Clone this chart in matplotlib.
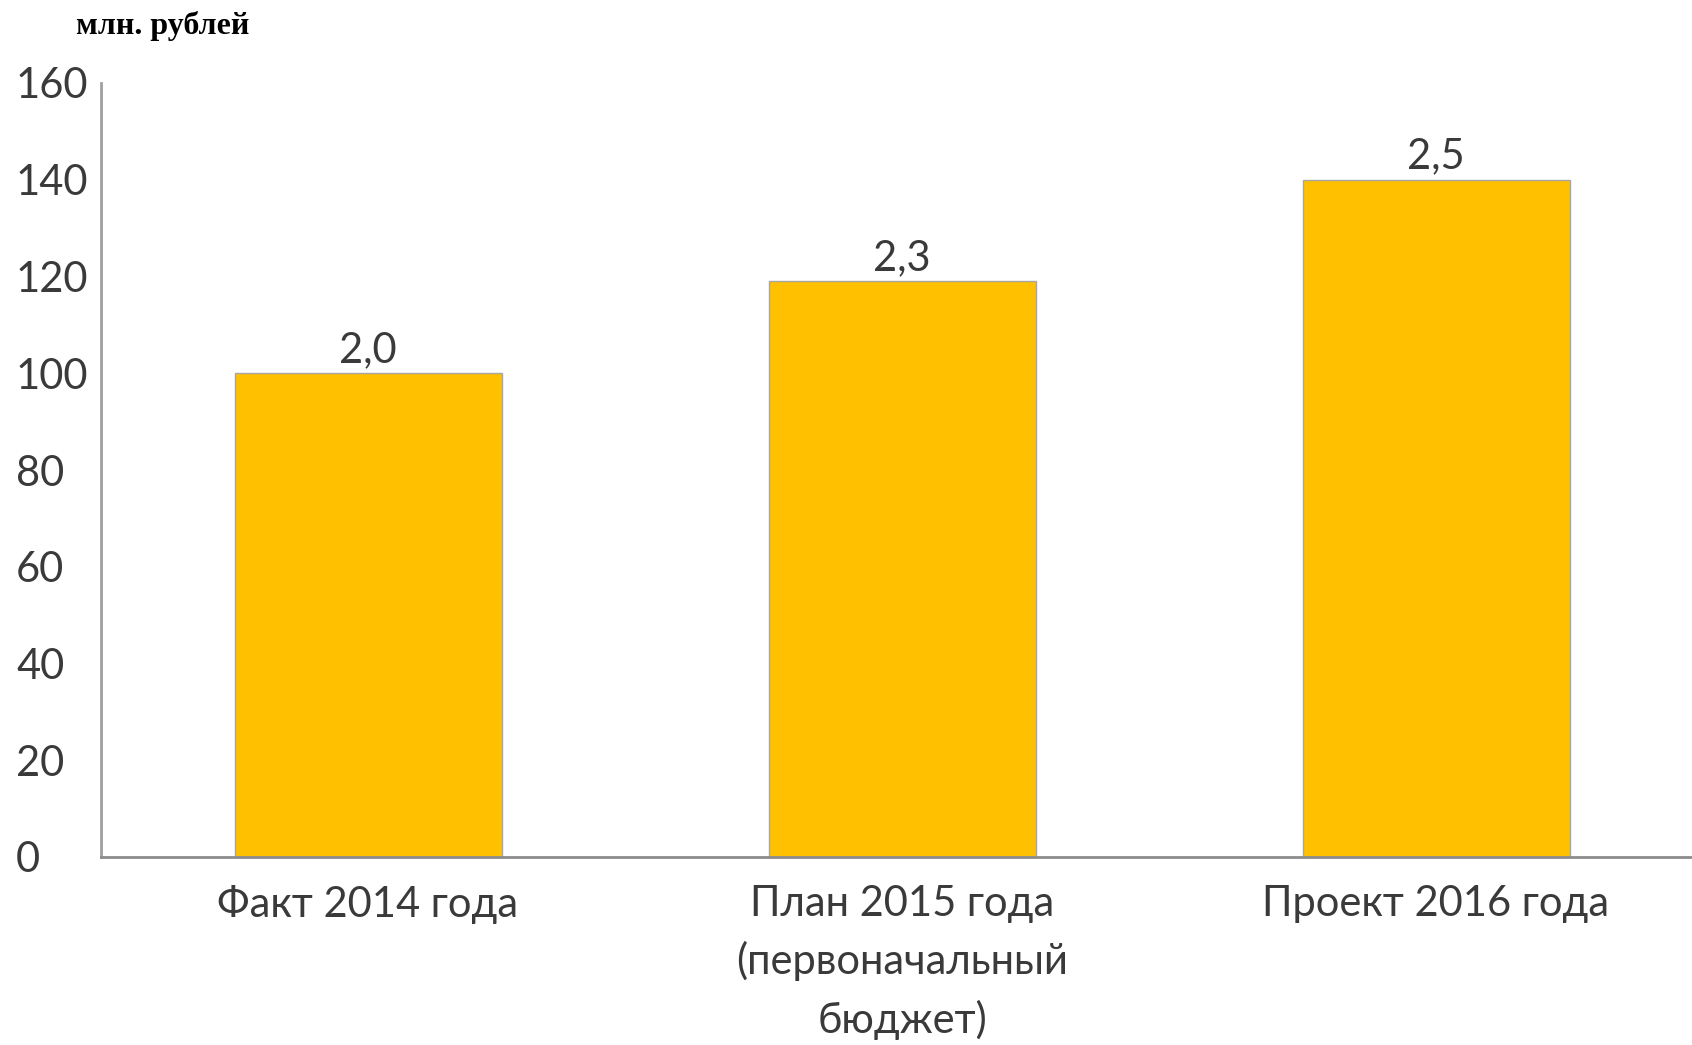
import matplotlib
matplotlib.use("Agg")
import matplotlib.pyplot as plt

categories = ["Факт 2014 года", "План 2015 года\n(первоначальный\nбюджет)", "Проект 2016 года"]
values = [100, 119, 140]
labels = ["2,0", "2,3", "2,5"]
yticks = [0, 20, 40, 60, 80, 100, 120, 140, 160]
unit_title = "млн. рублей"

W, H = 1692, 1045
fig = plt.figure(figsize=(W / 100, H / 100), dpi=100)
left = 101 / W
right = 1703 / W
bottom = 1 - 857 / H
top = 1 - 83 / H
ax = fig.add_axes([left, bottom, right - left, top - bottom])

txt_color = "#3a3a3a"
font = "Lato"
fs = 30

x = list(range(len(categories)))
ax.bar(x, values, width=0.5, color="#FFC000", edgecolor="#a6a6a6", linewidth=1.0, zorder=2)
for xi, v, lab in zip(x, values, labels):
    ax.annotate(lab, (xi, v), xytext=(0, 3), textcoords="offset points",
                ha="center", va="bottom", fontsize=fs, family=font, color=txt_color)

ax.set_xlim(-0.5, len(categories) - 0.5)
ax.set_ylim(0, 160)
ax.set_yticks(yticks)
ax.set_yticklabels([str(t) for t in yticks], fontsize=fs, family=font, color=txt_color, ha="left")
ax.set_xticks(x)
ax.set_xticklabels(categories, fontsize=fs, family=font, color=txt_color, linespacing=1.55)
ax.tick_params(axis="both", length=0)
ax.tick_params(axis="y", pad=85 / 1.389)
ax.tick_params(axis="x", pad=20)

for s in ["top", "right"]:
    ax.spines[s].set_visible(False)
ax.spines["left"].set_color("#a0a0a0")
ax.spines["left"].set_linewidth(2)
ax.spines["bottom"].set_color("#8c8c8c")
ax.spines["bottom"].set_linewidth(2)

fig.text(76 / W, 1 - 26 / H, unit_title, fontsize=23, fontweight="bold",
         family="Liberation Serif", color="black", ha="left", va="center")

fig.savefig("out.png", dpi=100)
